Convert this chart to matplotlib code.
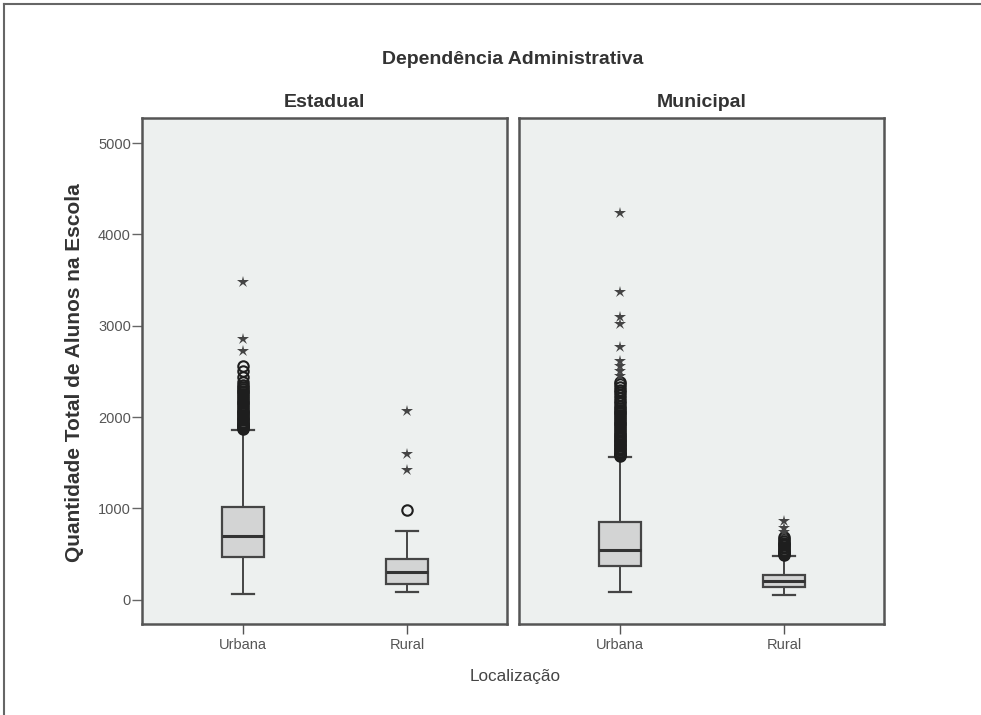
import matplotlib
matplotlib.use('Agg')
import matplotlib.pyplot as plt
from matplotlib.lines import Line2D

plt.rcParams['font.family'] = ['Liberation Sans', 'DejaVu Sans']

panels = ['Estadual', 'Municipal']
locais = ['Urbana', 'Rural']

# box statistics: [whislo, q1, med, q3, whishi]
est_urbana = [60, 470, 700, 1020, 1860]
est_rural = [85, 175, 305, 445, 755]
mun_urbana = [80, 365, 550, 850, 1565]
mun_rural = [50, 135, 205, 270, 480]

# outliers (circles) and extremes (stars)
est_urbana_out = [1870, 1880, 1890, 1900, 1910, 1920, 1935, 1950, 1965, 1980, 1995,
                  2010, 2025, 2040, 2055, 2070, 2090, 2110, 2130, 2150, 2170, 2190,
                  2210, 2230, 2250, 2270, 2290, 2310, 2330, 2350, 2380, 2440, 2510, 2560]
est_urbana_ext = [2720, 2860, 3480]
est_rural_out = [985]
est_rural_ext = [1420, 1600, 2070]
mun_urbana_out = [1570, 1580, 1590, 1600, 1610, 1620, 1635, 1650, 1665, 1680, 1695,
                  1710, 1725, 1740, 1755, 1770, 1785, 1800, 1820, 1840, 1860, 1880,
                  1900, 1920, 1940, 1960, 1980, 2000, 2020, 2040, 2060, 2080, 2100,
                  2120, 2150, 2180, 2210, 2240, 2270, 2300, 2330, 2360, 2390]
mun_urbana_ext = [2450, 2500, 2560, 2610, 2770, 3020, 3100, 3370, 4240]
mun_rural_out = [490, 500, 510, 520, 535, 550, 565, 580, 595, 610, 625, 645, 665, 690]
mun_rural_ext = [740, 790, 860]

data = {
    'Estadual': [(est_urbana, est_urbana_out, est_urbana_ext),
                 (est_rural, est_rural_out, est_rural_ext)],
    'Municipal': [(mun_urbana, mun_urbana_out, mun_urbana_ext),
                  (mun_rural, mun_rural_out, mun_rural_ext)],
}

line_c = '#454545'
fig = plt.figure(figsize=(9.81, 7.15), dpi=100)
lefts = [142 / 981, 519 / 981]

for i, name in enumerate(panels):
    ax = fig.add_axes([lefts[i], 1 - 624 / 715, 365 / 981, 506 / 715])
    ax.set_facecolor('#EDF0EF')
    stats = []
    for lab, (s, out, ext) in zip(locais, data[name]):
        stats.append(dict(label=lab, whislo=s[0], q1=s[1], med=s[2], q3=s[3], whishi=s[4]))
    ax.bxp(stats, positions=[1, 2], widths=0.26, showfliers=False, patch_artist=True,
           boxprops=dict(facecolor='#D3D4D4', edgecolor=line_c, linewidth=1.6),
           medianprops=dict(color='#333333', linewidth=2.2),
           whiskerprops=dict(color=line_c, linewidth=1.4),
           capprops=dict(color=line_c, linewidth=1.6))
    for pos, (s, out, ext) in zip([1, 2], data[name]):
        ax.plot([pos] * len(out), out, 'o', mfc='none', mec='#1e1e1e', ms=7.5, mew=1.5)
        ax.plot([pos] * len(ext), ext, '*', color='#444444', ms=9, mew=0)
    ax.set_xlim(0.383, 2.61)
    ax.set_ylim(-265, 5275)
    ax.set_xticks([1, 2])
    ax.set_xticklabels(locais, fontsize=10.5, color='#555555')
    ax.tick_params(axis='x', length=7, width=1, color='#555555', pad=3)
    if i == 0:
        ax.set_yticks([0, 1000, 2000, 3000, 4000, 5000])
        ax.tick_params(axis='y', length=7, width=1, color='#666666', labelsize=10.5,
                       labelcolor='#555555', pad=1)
    else:
        ax.set_yticks([])
    for sp in ax.spines.values():
        sp.set_color('#555555')
        sp.set_linewidth(1.8)
    ax.set_title(name, fontsize=14, fontweight='bold', color='#333333', pad=8)

fig.text(513 / 981, 1 - 60 / 715, 'Dependência Administrativa', ha='center', va='center',
         fontsize=14, fontweight='bold', color='#333333')
fig.text(75 / 981, 1 - 373 / 715, 'Quantidade Total de Alunos na Escola', rotation=90,
         ha='center', va='center', fontsize=15, fontweight='bold', color='#333333')
fig.text(515 / 981, 1 - 677 / 715, 'Localização', ha='center', va='center',
         fontsize=12.3, color='#444444')

# page border (top and left)
fig.add_artist(Line2D([4 / 981, 1], [1 - 4 / 715, 1 - 4 / 715], color='#666666', lw=1.5))
fig.add_artist(Line2D([4 / 981, 4 / 981], [0, 1 - 4 / 715], color='#666666', lw=1.5))

fig.savefig('out.png', dpi=100)
